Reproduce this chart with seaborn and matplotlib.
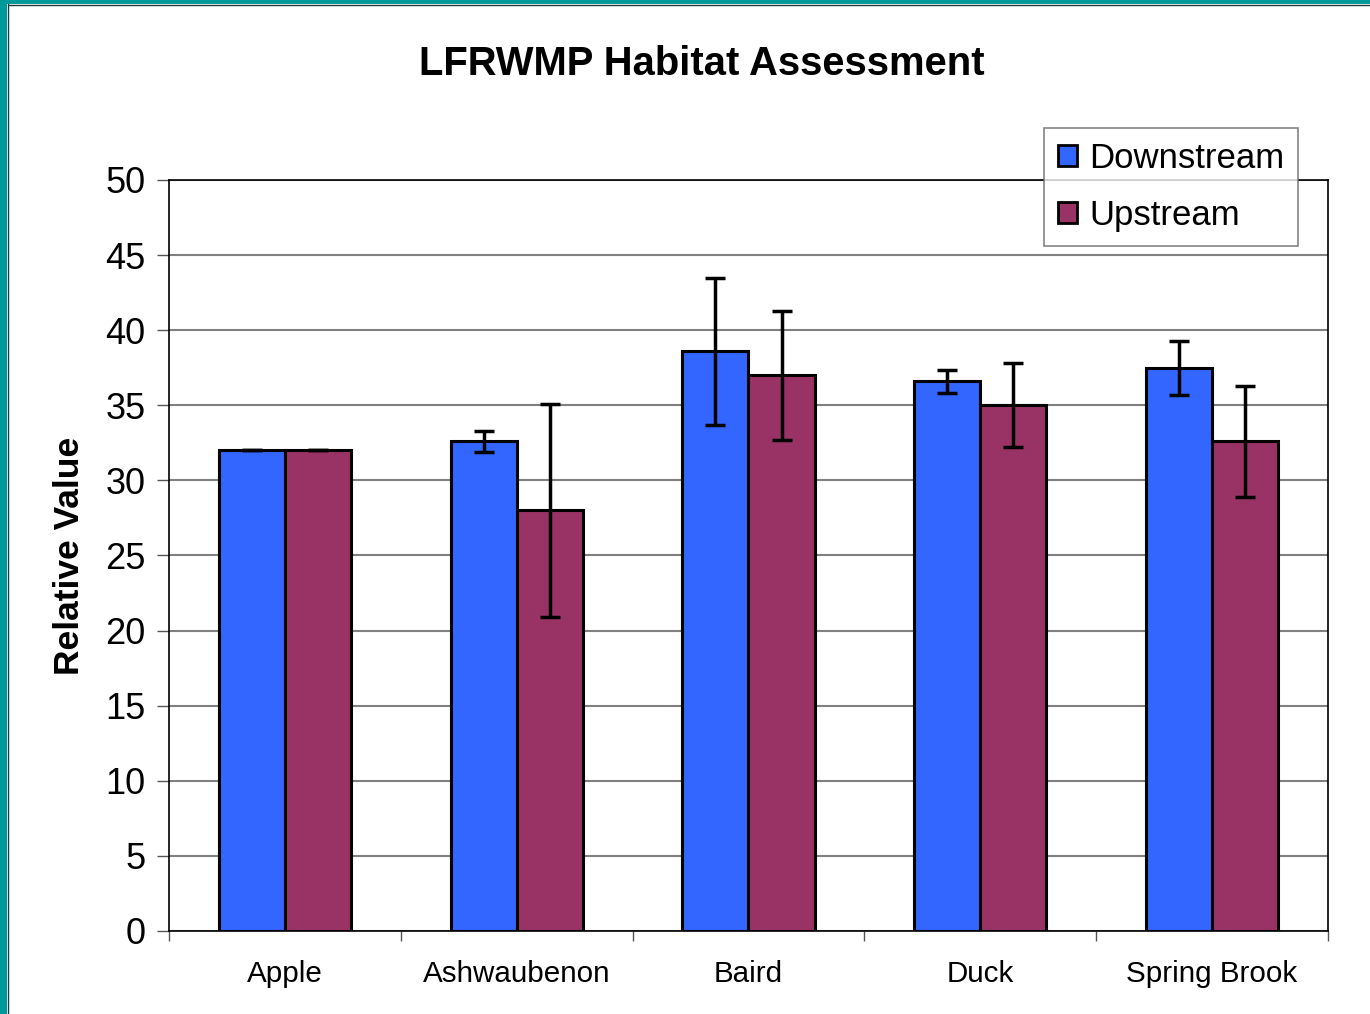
import matplotlib
matplotlib.use("Agg")
import matplotlib.pyplot as plt
from matplotlib.patches import Rectangle
import seaborn as sns
import pandas as pd
import numpy as np


sites = ["Apple", "Ashwaubenon", "Baird", "Duck", "Spring Brook"]
positions = ["Downstream", "Upstream"]
downstream = [32.0, 32.6, 38.6, 36.6, 37.5]
upstream = [32.0, 28.0, 37.0, 35.0, 32.6]
downstream_err = [0.0, 0.7, 4.9, 0.75, 1.8]
upstream_err = [0.0, 7.1, 4.3, 2.8, 3.7]
y_ticks = [0, 5, 10, 15, 20, 25, 30, 35, 40, 45, 50]

COLORS = ["#3366FF", "#993366"]
TEAL = "#009999"


def main():
    sns.set_style("white")
    plt.rcParams["font.family"] = ["Liberation Sans", "DejaVu Sans"]
    plt.rcParams["text.color"] = "black"
    plt.rcParams["axes.labelcolor"] = "black"
    plt.rcParams["xtick.color"] = "black"
    plt.rcParams["ytick.color"] = "black"

    df = pd.DataFrame({
        "site": sites * 2,
        "position": [positions[0]] * len(sites) + [positions[1]] * len(sites),
        "value": downstream + upstream,
    })
    errs = [downstream_err, upstream_err]

    fig = plt.figure(figsize=(13.7, 10.14), dpi=100)
    ax = fig.add_axes([0.1234, 0.0819, 0.8459, 0.7406])

    sns.barplot(data=df, x="site", y="value", hue="position", order=sites,
                hue_order=positions, palette=COLORS, saturation=1,
                width=0.571, gap=0, errorbar=None, edgecolor="black",
                linewidth=2.2, ax=ax, zorder=3)

    for container, err in zip(ax.containers, errs):
        xs = [p.get_x() + p.get_width() / 2 for p in container.patches]
        ys = [p.get_height() for p in container.patches]
        ax.errorbar(xs, ys, yerr=err, fmt="none", ecolor="black",
                    elinewidth=2.5, capsize=7.5, capthick=2.5, zorder=4)

    ax.set_xlim(-0.5, len(sites) - 0.5)
    ax.set_ylim(0, 50)
    ax.set_yticks(y_ticks)
    ax.set_yticklabels([str(t) for t in y_ticks], fontsize=26)
    ax.yaxis.grid(True, color="#808080", linewidth=1.5, zorder=0)
    ax.set_axisbelow(True)

    # category boundaries get the ticks, labels sit at the centres
    ax.set_xticks(np.arange(-0.5, len(sites), 1.0))
    ax.set_xticklabels([])
    ax.set_xticks(np.arange(len(sites)), minor=True)
    ax.set_xticklabels(sites, minor=True, fontsize=21.3)
    ax.tick_params(axis="x", which="major", direction="out", length=7,
                   width=1, color="#555555", bottom=True)
    ax.tick_params(axis="x", which="minor", length=0, pad=21)
    ax.tick_params(axis="y", direction="out", length=9, width=1,
                   color="#555555", left=True, pad=8)

    for s in ax.spines.values():
        s.set_color("black")
        s.set_linewidth(1.2)

    ax.set_xlabel("")
    ax.set_ylabel("Relative Value", fontsize=25.5, fontweight="bold", labelpad=14)
    fig.text(0.5125, 0.937, "LFRWMP Habitat Assessment", fontsize=28.8,
             fontweight="bold", ha="center", va="center")

    leg = ax.legend(loc="upper left", bbox_to_anchor=(0.755, 1.069),
                    fontsize=25, frameon=True, fancybox=False,
                    edgecolor="#666666", handlelength=0.55, handleheight=0.55,
                    handletextpad=0.35, borderpad=0.4, labelspacing=0.68,
                    borderaxespad=0)
    leg.get_frame().set_linewidth(1.2)
    for h in leg.legend_handles:
        h.set_edgecolor("black")
        h.set_linewidth(2)

    # teal slide frame on the left and top edges
    fig.patches.append(Rectangle((0, 0), 7 / 1370, 1, transform=fig.transFigure,
                                 facecolor=TEAL, edgecolor="none", zorder=10))
    fig.patches.append(Rectangle((0, 1 - 4 / 1014), 1, 4 / 1014,
                                 transform=fig.transFigure, facecolor=TEAL,
                                 edgecolor="none", zorder=10))
    fig.lines.append(plt.Line2D([7.5 / 1370, 7.5 / 1370], [0, 1 - 4 / 1014],
                                transform=fig.transFigure, color="#1a3a3a",
                                linewidth=1, zorder=11))
    fig.lines.append(plt.Line2D([7.5 / 1370, 1], [1 - 4.5 / 1014, 1 - 4.5 / 1014],
                                transform=fig.transFigure, color="#1a3a3a",
                                linewidth=1, zorder=11))

    fig.savefig("out.png", dpi=100)
    plt.close(fig)


if __name__ == "__main__":
    main()
